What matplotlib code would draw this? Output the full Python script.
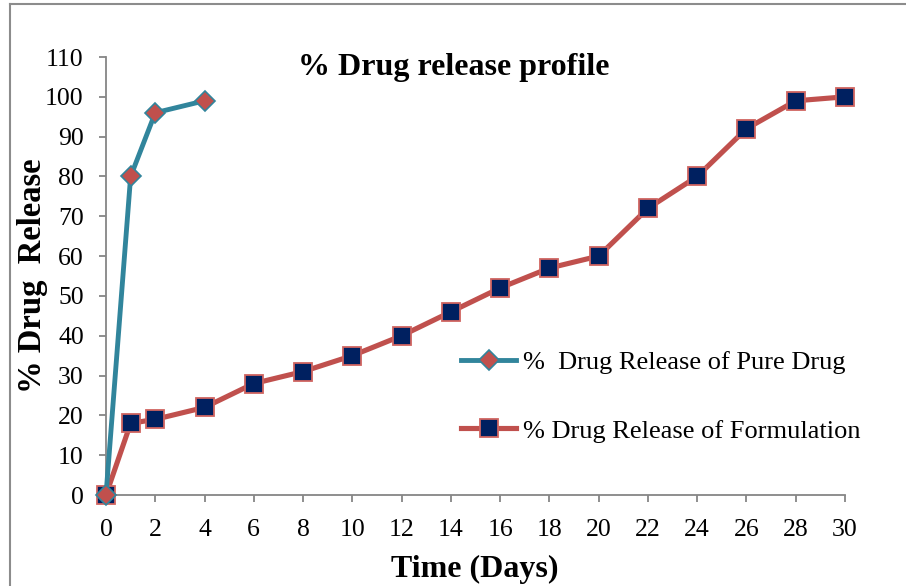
import numpy as np
import matplotlib
matplotlib.use('Agg')
import matplotlib.pyplot as plt
from matplotlib.lines import Line2D

plt.rcParams['font.family'] = ['Liberation Serif', 'DejaVu Serif']

# data
days_pure = [0, 1, 2, 4]
release_pure = [0, 80, 96, 99]

days_form = [0, 1, 2, 4, 6, 8, 10, 12, 14, 16, 18, 20, 22, 24, 26, 28, 30]
release_form = [0, 18, 19, 22, 28, 31, 35, 40, 46, 52, 57, 60, 72, 80, 92, 99, 100]

x_ticks = np.arange(0, 31, 2)
y_ticks = np.arange(0, 111, 10)

label_pure = '%  Drug Release of Pure Drug'
label_form = '% Drug Release of Formulation'

fig = plt.figure(figsize=(9.06, 5.86), dpi=100)
ax = fig.add_axes([106/906, 91/586, 739/906, 438/586])

ax.plot(days_pure, release_pure, color='#31859C', lw=3.5, marker='D', ms=10.5,
        mfc='#C0504D', mec='#31859C', mew=1.2, label=label_pure, zorder=3,
        clip_on=False)
ax.plot(days_form, release_form, color='#C0504D', lw=3.7, marker='s', ms=13,
        mfc='#002060', mec='#D06460', mew=1.3, label=label_form, zorder=2,
        clip_on=False)

ax.set_xlim(0, 30)
ax.set_ylim(0, 110)
ax.set_xticks(x_ticks)
ax.set_yticks(y_ticks)
for s in ['top', 'right']:
    ax.spines[s].set_visible(False)
for s in ['left', 'bottom']:
    ax.spines[s].set_color('#868686')
    ax.spines[s].set_linewidth(1.3)
ax.tick_params(axis='both', direction='out', length=5, width=1.3, color='#868686',
               labelsize=18.5)
ax.tick_params(axis='y', pad=11)
ax.tick_params(axis='x', pad=12)

fig.text(454/906, 1 - 67/586, '% Drug release profile', ha='center',
         va='center', fontsize=23, fontweight='bold')
fig.text(33/906, 1 - 276/586, '% Drug  Release', rotation=90, ha='center', va='center',
         fontsize=23.5, fontweight='bold')
fig.text(475/906, 1 - 569/586, 'Time (Days)', ha='center', va='center',
         fontsize=23, fontweight='bold')

ax.legend(loc='upper left', bbox_to_anchor=(461/906, 1 - 351/586),
          bbox_transform=fig.transFigure, frameon=False, fontsize=19,
          handlelength=2.1, handletextpad=0.25, labelspacing=1.69, borderpad=0,
          borderaxespad=0)

# grey outer border (top and left visible)
fig.add_artist(Line2D([10/906, 10/906], [0, 1 - 4/586], transform=fig.transFigure,
                      color='#8c8c8c', lw=1.5))
fig.add_artist(Line2D([10/906, 1], [1 - 4/586, 1 - 4/586], transform=fig.transFigure,
                      color='#8c8c8c', lw=1.5))

fig.savefig('out.png', dpi=100)
